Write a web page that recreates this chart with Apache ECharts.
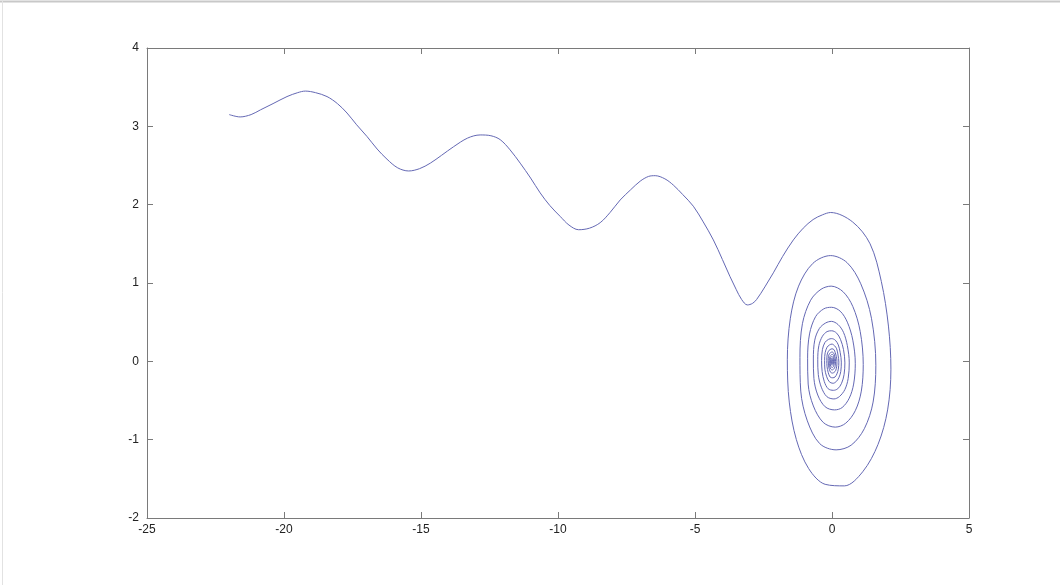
<!DOCTYPE html>
<html>
<head>
<meta charset="utf-8">
<script src="https://cdn.jsdelivr.net/npm/echarts@6/dist/echarts.min.js"></script>
<style>
html,body{margin:0;padding:0;background:#fff;}
#chart{width:1060px;height:585px;}
</style>
</head>
<body>
<div id="chart"></div>
<script>
// Tick labels
var xTicks = [-25, -20, -15, -10, -5, 0, 5];
var yTicks = [-2, -1, 0, 1, 2, 3, 4];

// Incoming wavy part of the trajectory (x, y)
var wavePoints = [
  [-22.0, 3.15], [-21.6, 3.12], [-21.2, 3.15], [-20.86, 3.21], [-20.4, 3.29], [-19.89, 3.38],
  [-19.5, 3.43], [-19.22, 3.45], [-18.85, 3.43], [-18.43, 3.38], [-18.05, 3.29], [-17.7, 3.17],
  [-17.35, 3.02], [-16.97, 2.87], [-16.6, 2.71], [-16.24, 2.58], [-15.85, 2.47], [-15.45, 2.43],
  [-15.05, 2.46], [-14.66, 2.53], [-14.25, 2.63], [-13.81, 2.74], [-13.3, 2.85], [-12.84, 2.89],
  [-12.45, 2.88], [-12.11, 2.83], [-11.75, 2.70], [-11.38, 2.53], [-11.0, 2.34], [-10.65, 2.15],
  [-10.3, 1.99], [-9.92, 1.85], [-9.6, 1.74], [-9.25, 1.68], [-8.85, 1.70], [-8.46, 1.77],
  [-8.1, 1.90], [-7.73, 2.06], [-7.35, 2.19], [-7.0, 2.30], [-6.7, 2.36], [-6.45, 2.37],
  [-6.1, 2.33], [-5.79, 2.25], [-5.45, 2.13], [-5.06, 1.98], [-4.7, 1.78], [-4.33, 1.55],
  [-4.0, 1.30], [-3.72, 1.08], [-3.5, 0.92], [-3.3, 0.79], [-3.09, 0.72], [-2.9, 0.74],
  [-2.75, 0.79], [-2.45, 0.95], [-2.14, 1.13], [-1.8, 1.34], [-1.41, 1.55], [-1.05, 1.70],
  [-0.69, 1.81], [-0.35, 1.87], [-0.05, 1.90]
];

// Spiral part of the trajectory (x, y)
var spiralPoints = [
  [0.75, 1.78], [1.39, 1.50], [1.80, 1.02], [2.06, 0.45], [2.15, -0.10], [2.03, -0.62], [1.68, -1.06], [1.12, -1.41],
  [0.45, -1.59], [-0.25, -1.57], [-0.85, -1.37], [-1.30, -1.00], [-1.56, -0.52], [-1.63, 0.02], [-1.52, 0.55], [-1.22, 0.96], [-0.70, 1.25],
  [-0.05, 1.35], [0.55, 1.26], [1.05, 0.99], [1.44, 0.55], [1.60, -0.05], [1.50, -0.52], [1.18, -0.86], [0.70, -1.07],
  [0.15, -1.13], [-0.45, -1.05], [-0.90, -0.76], [-1.14, -0.38], [-1.17, 0.05], [-1.08, 0.48], [-0.78, 0.78], [-0.40, 0.92],
  [-0.03, 0.96], [0.40, 0.89], [0.76, 0.70], [1.03, 0.38], [1.14, -0.04], [1.07, -0.38], [0.85, -0.63], [0.50, -0.79],
  [0.12, -0.84], [-0.32, -0.78], [-0.68, -0.57], [-0.87, -0.29], [-0.89, 0.04], [-0.82, 0.35], [-0.60, 0.57], [-0.30, 0.67],
  [-0.02, 0.69], [0.30, 0.64], [0.56, 0.50], [0.76, 0.27], [0.85, -0.03], [0.79, -0.29], [0.63, -0.47], [0.37, -0.59],
  [0.09, -0.62], [-0.25, -0.58], [-0.52, -0.43], [-0.66, -0.22], [-0.68, 0.03], [-0.63, 0.27], [-0.46, 0.42], [-0.23, 0.49],
  [-0.02, 0.51], [0.22, 0.47], [0.42, 0.37], [0.56, 0.20], [0.63, -0.02], [0.59, -0.22], [0.47, -0.36], [0.27, -0.45],
  [0.07, -0.48], [-0.19, -0.45], [-0.39, -0.33], [-0.50, -0.17], [-0.52, 0.02], [-0.48, 0.20], [-0.35, 0.32], [-0.18, 0.38],
  [-0.01, 0.39], [0.17, 0.36], [0.31, 0.28], [0.42, 0.15], [0.47, -0.02], [0.44, -0.17], [0.35, -0.28], [0.21, -0.35],
  [0.05, -0.37], [-0.14, -0.35], [-0.28, -0.26], [-0.36, -0.13], [-0.38, 0.01], [-0.35, 0.15], [-0.26, 0.24], [-0.13, 0.28],
  [-0.01, 0.29], [0.12, 0.27], [0.23, 0.21], [0.30, 0.11], [0.34, -0.01], [0.32, -0.13], [0.25, -0.21], [0.15, -0.26],
  [0.04, -0.28], [-0.10, -0.26], [-0.20, -0.19], [-0.26, -0.10], [-0.27, 0.01], [-0.25, 0.11], [-0.18, 0.18], [-0.09, 0.21],
  [0.00, 0.22], [0.09, 0.20], [0.17, 0.16], [0.22, 0.08], [0.25, -0.01], [0.23, -0.10], [0.18, -0.16], [0.11, -0.20],
  [0.03, -0.21], [-0.07, -0.20], [-0.14, -0.14], [-0.18, -0.07], [-0.19, 0.01], [-0.18, 0.08], [-0.13, 0.13], [-0.07, 0.15],
  [0.00, 0.16], [0.07, 0.15], [0.12, 0.11], [0.16, 0.06], [0.18, 0.00], [0.17, -0.07], [0.13, -0.12], [0.08, -0.14],
  [0.02, -0.15], [-0.05, -0.14], [-0.10, -0.10], [-0.13, -0.05], [-0.14, 0.01], [-0.13, 0.06], [-0.09, 0.10], [-0.05, 0.11],
  [0.00, 0.12], [0.05, 0.11], [0.09, 0.08], [0.12, 0.04], [0.13, 0.00], [0.12, -0.05], [0.09, -0.09], [0.05, -0.10],
  [0.01, -0.11], [-0.04, -0.10], [-0.08, -0.07], [-0.10, -0.03], [-0.10, 0.01], [-0.09, 0.05], [-0.06, 0.07], [-0.03, 0.08],
  [0.00, 0.09], [0.06, 0.07], [0.09, 0.00], [0.06, -0.06], [0.01, -0.08], [-0.05, -0.06], [-0.07, 0.00], [-0.05, 0.05],
  [0.00, 0.06], [0.04, 0.05], [0.06, 0.00], [0.04, -0.04], [0.00, -0.05], [-0.03, -0.04], [-0.05, 0.00], [-0.03, 0.03],
  [0.00, 0.04], [0.04, 0.00], [0.00, -0.035], [-0.03, 0.00],
  [0.00, 0.025], [0.025, 0.00], [0.00, -0.02], [-0.02, 0.00], [0.00, 0.01], [0.00, 0.00]
];

var trajectory = wavePoints.concat(spiralPoints);

var axisGrey = '#7a7a7a';
var labelColor = '#222';
var fontFam = 'Liberation Sans, Arial, Helvetica, sans-serif';

function baseX(show, pos) {
  return {
    type: 'value', position: pos, min: xTicks[0], max: xTicks[xTicks.length - 1], interval: 5,
    axisLine: { show: true, onZero: false, lineStyle: { color: axisGrey, width: 1 } },
    axisTick: { show: true, inside: true, length: 6, lineStyle: { color: axisGrey } },
    axisLabel: { show: show, color: labelColor, fontSize: 12, fontFamily: fontFam, margin: 6 },
    splitLine: { show: false }
  };
}
function baseY(show, pos) {
  return {
    type: 'value', position: pos, min: yTicks[0], max: yTicks[yTicks.length - 1], interval: 1,
    axisLine: { show: true, onZero: false, lineStyle: { color: axisGrey, width: 1 } },
    axisTick: { show: true, inside: true, length: 6, lineStyle: { color: axisGrey } },
    axisLabel: { show: show, color: labelColor, fontSize: 12, fontFamily: fontFam, margin: 8 },
    splitLine: { show: false }
  };
}

var chart = echarts.init(document.getElementById('chart'), null, { renderer: 'canvas' });
chart.setOption({
  animation: false,
  backgroundColor: '#fff',
  grid: { left: 147, right: 91, top: 48, bottom: 67 },
  xAxis: [baseX(true, 'bottom'), baseX(false, 'top')],
  yAxis: [baseY(true, 'left'), baseY(false, 'right')],
  graphic: [
    { type: 'line', shape: { x1: 0, y1: 1.5, x2: 1060, y2: 1.5 }, style: { stroke: '#c8c8c8', lineWidth: 2 } },
    { type: 'line', shape: { x1: 2.5, y1: 0, x2: 2.5, y2: 585 }, style: { stroke: '#e2e2e2', lineWidth: 1 } }
  ],
  series: [{
    type: 'line',
    xAxisIndex: 0, yAxisIndex: 0,
    data: trajectory,
    showSymbol: false,
    smooth: 0.33,
    lineStyle: { color: '#6468b4', width: 1 }
  }]
});
</script>
</body>
</html>
